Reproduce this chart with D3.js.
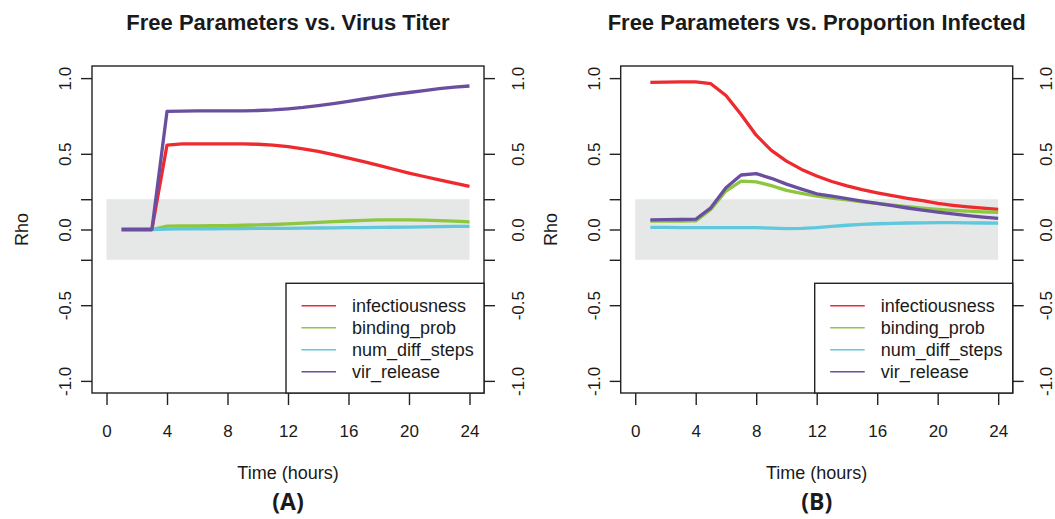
<!DOCTYPE html>
<html>
<head>
<meta charset="utf-8">
<script src="https://cdn.jsdelivr.net/npm/d3@7"></script>
<style>
  html, body { margin: 0; padding: 0; background: #fff; }
  svg { display: block; }
  text { font-family: "Liberation Sans", Arial, Helvetica, sans-serif; fill: #1a1a1a; }
</style>
</head>
<body>
<svg id="chart" width="1055" height="519"></svg>
<script>
// ---------------- data ----------------
const hours = [1,2,3,4,5,6,7,8,9,10,11,12,13,14,15,16,17,18,19,20,21,22,23,24];
const seriesNames = ["infectiousness", "binding_prob", "num_diff_steps", "vir_release"];
const seriesColors = ["#ee2a2f", "#8dc63f", "#5ec8dc", "#6a4ea0"];

// Panel A: Free Parameters vs. Virus Titer
const titerInfectiousness = [0,0,0,0.558,0.565,0.566,0.566,0.566,0.565,0.563,0.557,0.547,0.533,0.516,0.495,0.472,0.448,0.423,0.398,0.373,0.350,0.328,0.306,0.285];
const titerBinding        = [0,0,0,0.022,0.023,0.024,0.025,0.026,0.028,0.030,0.033,0.037,0.042,0.047,0.052,0.056,0.060,0.063,0.064,0.064,0.062,0.059,0.055,0.050];
const titerNumDiff        = [0,0,0,0.003,0.004,0.005,0.005,0.006,0.006,0.007,0.007,0.008,0.009,0.010,0.011,0.012,0.013,0.014,0.015,0.016,0.018,0.019,0.020,0.021];
const titerVirRelease     = [0,0,0,0.780,0.782,0.783,0.783,0.783,0.784,0.786,0.790,0.797,0.806,0.818,0.832,0.847,0.862,0.877,0.892,0.905,0.918,0.930,0.940,0.948];

// Panel B: Free Parameters vs. Proportion Infected
const propInfectiousness = [0.972,0.974,0.975,0.975,0.963,0.885,0.760,0.623,0.523,0.452,0.397,0.353,0.317,0.288,0.263,0.242,0.223,0.206,0.190,0.172,0.160,0.150,0.141,0.133];
const propBinding        = [0.055,0.055,0.056,0.057,0.132,0.254,0.320,0.315,0.290,0.258,0.238,0.220,0.207,0.195,0.183,0.172,0.161,0.151,0.141,0.133,0.126,0.121,0.117,0.114];
const propNumDiff        = [0.014,0.014,0.013,0.012,0.012,0.012,0.013,0.012,0.009,0.006,0.007,0.012,0.020,0.028,0.034,0.038,0.041,0.043,0.044,0.045,0.045,0.044,0.043,0.042];
const propVirRelease     = [0.064,0.065,0.066,0.068,0.143,0.276,0.360,0.369,0.338,0.300,0.267,0.236,0.220,0.204,0.188,0.172,0.157,0.142,0.128,0.115,0.103,0.092,0.082,0.074];

const xTicks = [0,4,8,12,16,20,24];
const yTicks = [-1,-0.5,-0.2,0,0.2,0.5,1];
const yLabelTicks = [-1,-0.5,0,0.5,1];
const bandRange = [-0.2, 0.2];

const panels = [
  { title: "Free Parameters vs. Virus Titer", tag: "(A)", left: 92, right: 484,
    values: [titerInfectiousness, titerBinding, titerNumDiff, titerVirRelease] },
  { title: "Free Parameters vs. Proportion Infected", tag: "(B)", left: 620.7, right: 1012.7,
    values: [propInfectiousness, propBinding, propNumDiff, propVirRelease] }
];

// ---------------- drawing ----------------
const svg = d3.select("#chart");
const plotTop = 66, plotBottom = 393;
const fmt = d => yLabelTicks.includes(d) ? d3.format(".1f")(d).replace("−", "-") : "";

panels.forEach(p => {
  const x = d3.scaleLinear().domain([-0.96, 24.96]).range([p.left, p.right]);
  const y = d3.scaleLinear().domain([-1.08, 1.08]).range([plotBottom, plotTop]);
  const g = svg.append("g");

  // grey band
  g.append("rect")
    .attr("x", x(0)).attr("width", x(24) - x(0))
    .attr("y", y(bandRange[1])).attr("height", y(bandRange[0]) - y(bandRange[1]))
    .attr("fill", "#e6e7e7");

  // lines
  const line = d3.line().x((d, i) => x(hours[i])).y(d => y(d));
  p.values.forEach((vals, k) => {
    g.append("path").datum(vals)
      .attr("d", line)
      .attr("fill", "none")
      .attr("stroke", seriesColors[k])
      .attr("stroke-width", 3.3)
      .attr("stroke-linejoin", "round");
  });

  // left axis
  const ax = g.append("g").attr("transform", `translate(${p.left},0)`)
    .call(d3.axisLeft(y).tickValues(yTicks).tickSize(11).tickFormat(fmt));
  ax.select(".domain").remove();
  ax.selectAll("line").attr("stroke", "#222").attr("stroke-width", 1.4);
  ax.selectAll("text")
    .attr("x", null).attr("dy", "0.36em")
    .attr("text-anchor", "middle")
    .attr("transform", "translate(-27,0) rotate(-90)")
    .style("font-size", "17px").attr("fill", "#1a1a1a");

  // right axis
  const ar = g.append("g").attr("transform", `translate(${p.right},0)`)
    .call(d3.axisRight(y).tickValues(yTicks).tickSize(11).tickFormat(fmt));
  ar.select(".domain").remove();
  ar.selectAll("line").attr("stroke", "#222").attr("stroke-width", 1.4);
  ar.selectAll("text")
    .attr("x", null).attr("dy", "0.36em")
    .attr("text-anchor", "middle")
    .attr("transform", "translate(33.5,0) rotate(-90)")
    .style("font-size", "17px").attr("fill", "#1a1a1a");

  // bottom axis
  const ab = g.append("g").attr("transform", `translate(0,${plotBottom})`)
    .call(d3.axisBottom(x).tickValues(xTicks).tickSize(12).tickFormat(d3.format("d")));
  ab.select(".domain").remove();
  ab.selectAll("line").attr("stroke", "#222").attr("stroke-width", 1.4);
  ab.selectAll("text")
    .attr("y", 38).attr("dy", "0.36em")
    .style("font-size", "17px").attr("fill", "#1a1a1a");

  // box
  g.append("rect")
    .attr("x", p.left).attr("y", plotTop)
    .attr("width", p.right - p.left).attr("height", plotBottom - plotTop)
    .attr("fill", "none").attr("stroke", "#222").attr("stroke-width", 1.4);

  // legend
  const lgLeft = p.left + 194, lgTop = 283.3;
  const lg = g.append("g");
  lg.append("rect")
    .attr("x", lgLeft).attr("y", lgTop)
    .attr("width", p.right - lgLeft).attr("height", plotBottom - lgTop)
    .attr("fill", "#fff").attr("stroke", "#222").attr("stroke-width", 1.4);
  seriesNames.forEach((name, k) => {
    const yy = 305.7 + k * 22;
    lg.append("line")
      .attr("x1", lgLeft + 15.5).attr("x2", lgLeft + 50)
      .attr("y1", yy).attr("y2", yy)
      .attr("stroke", seriesColors[k]).attr("stroke-width", 1.6);
    lg.append("text")
      .attr("x", lgLeft + 66).attr("y", yy).attr("dy", "0.36em")
      .style("font-size", "18px")
      .text(name);
  });

  const cx = (p.left + p.right) / 2;
  // title
  g.append("text")
    .attr("x", cx).attr("y", 30)
    .attr("text-anchor", "middle")
    .style("font-size", "22px").style("font-weight", "bold")
    .text(p.title);

  // x label
  g.append("text")
    .attr("x", cx).attr("y", 473).attr("dy", "0.36em")
    .attr("text-anchor", "middle")
    .style("font-size", "18px")
    .text("Time (hours)");

  // y label
  g.append("text")
    .attr("transform", `translate(${p.left - 70},${y(0)}) rotate(-90)`)
    .attr("dy", "0.36em")
    .attr("text-anchor", "middle")
    .style("font-size", "18px")
    .text("Rho");

  // panel tag
  g.append("text")
    .attr("x", cx).attr("y", 502).attr("dy", "0.36em")
    .attr("text-anchor", "middle")
    .style("font-family", "'Open Sans', Lato, sans-serif")
    .style("font-size", "23px").style("font-weight", "bold")
    .text(p.tag);
});
</script>
</body>
</html>
